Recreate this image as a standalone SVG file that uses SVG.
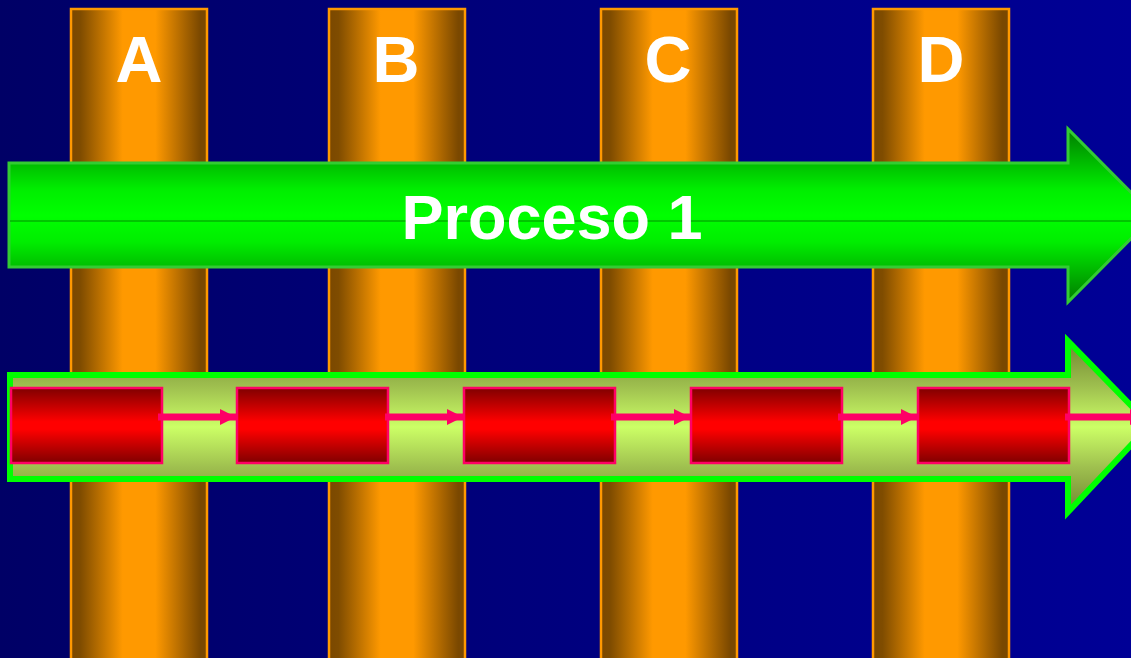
<svg xmlns="http://www.w3.org/2000/svg" width="1131" height="658" viewBox="0 0 1131 658">
  <defs>
    <linearGradient id="bg" x1="0" y1="0" x2="1" y2="0">
      <stop offset="0" stop-color="#000066"/>
      <stop offset="1" stop-color="#000096"/>
    </linearGradient>
    <linearGradient id="pillar" x1="0" y1="0" x2="1" y2="0">
      <stop offset="0" stop-color="#7a4800"/>
      <stop offset="0.07" stop-color="#7f4c00"/>
      <stop offset="0.38" stop-color="#ff9900"/>
      <stop offset="0.62" stop-color="#ff9900"/>
      <stop offset="0.95" stop-color="#7a4800"/>
      <stop offset="1" stop-color="#7a4800"/>
    </linearGradient>
    <linearGradient id="greenArrow" gradientUnits="userSpaceOnUse" x1="0" y1="128" x2="0" y2="303">
      <stop offset="0" stop-color="#007a00"/>
      <stop offset="0.35" stop-color="#00ee00"/>
      <stop offset="0.5" stop-color="#00ff00"/>
      <stop offset="0.65" stop-color="#00ee00"/>
      <stop offset="1" stop-color="#007a00"/>
    </linearGradient>
    <linearGradient id="limeArrow" gradientUnits="userSpaceOnUse" x1="0" y1="336" x2="0" y2="518">
      <stop offset="0" stop-color="#6a7f2e"/>
      <stop offset="0.28" stop-color="#9fc04f"/>
      <stop offset="0.5" stop-color="#ccff66"/>
      <stop offset="0.72" stop-color="#9fc04f"/>
      <stop offset="1" stop-color="#6a7f2e"/>
    </linearGradient>
    <linearGradient id="redBox" x1="0" y1="0" x2="0" y2="1">
      <stop offset="0" stop-color="#800000"/>
      <stop offset="0.45" stop-color="#ff0000"/>
      <stop offset="0.55" stop-color="#ff0000"/>
      <stop offset="1" stop-color="#800000"/>
    </linearGradient>
    <marker id="head" markerUnits="userSpaceOnUse" markerWidth="17" markerHeight="16" refX="16" refY="8" orient="auto">
      <path d="M0,0 L16,8 L0,16 Z" fill="#ff0066"/>
    </marker>
    <style>
      .pillar { fill: url(#pillar); stroke: #ff9900; stroke-width: 2.5; }
      .letter { font-family: "Liberation Sans", Arial, sans-serif; font-weight: bold; font-size: 65px; fill: #ffffff; text-anchor: middle; }
      .step { fill: url(#redBox); stroke: #ff0066; stroke-width: 2.5; }
      .flow { stroke: #ff0066; stroke-width: 7; fill: none; }
    </style>
  </defs>

  <rect x="0" y="0" width="1131" height="658" fill="url(#bg)"/>

  <!-- vertical columns -->
  <g id="col-A">
    <rect class="pillar" x="71" y="9" width="136" height="660"/>
    <text class="letter" x="139" y="82">A</text>
  </g>
  <g id="col-B">
    <rect class="pillar" x="329" y="9" width="136" height="660"/>
    <text class="letter" x="396" y="82">B</text>
  </g>
  <g id="col-C">
    <rect class="pillar" x="601" y="9" width="136" height="660"/>
    <text class="letter" x="668" y="82">C</text>
  </g>
  <g id="col-D">
    <rect class="pillar" x="873" y="9" width="136" height="660"/>
    <text class="letter" x="941" y="82">D</text>
  </g>

  <!-- process band -->
  <g id="process-1">
    <path d="M9,163 L1068,163 L1068,129 L1154,215.5 L1068,302 L1068,267 L9,267 Z" fill="url(#greenArrow)" stroke="#33cc33" stroke-width="3"/>
    <line x1="10" y1="221" x2="1131" y2="221" stroke="#008f00" stroke-width="1"/>
    <text x="552" y="239" font-family="Liberation Sans, Arial, sans-serif" font-weight="bold" font-size="63" fill="#ffffff" text-anchor="middle">Proceso 1</text>
  </g>

  <!-- step band -->
  <g id="step-band">
    <path d="M10,375 L1068,375 L1068,341 L1150,425 L1068,512 L1068,479 L10,479 Z" fill="url(#limeArrow)" stroke="#00ff00" stroke-width="6"/>
  </g>

  <g id="step-1"><rect class="step" x="11" y="388" width="151" height="75"/></g>
  <g id="step-2"><rect class="step" x="237" y="388" width="151" height="75"/></g>
  <g id="step-3"><rect class="step" x="464" y="388" width="151" height="75"/></g>
  <g id="step-4"><rect class="step" x="691" y="388" width="151" height="75"/></g>
  <g id="step-5"><rect class="step" x="918" y="388" width="151" height="75"/></g>

  <g id="connectors">
    <line class="flow" x1="158" y1="417" x2="236" y2="417" marker-end="url(#head)"/>
    <line class="flow" x1="385" y1="417" x2="463" y2="417" marker-end="url(#head)"/>
    <line class="flow" x1="611" y1="417" x2="690" y2="417" marker-end="url(#head)"/>
    <line class="flow" x1="838" y1="417" x2="917" y2="417" marker-end="url(#head)"/>
    <line class="flow" x1="1065" y1="417" x2="1146" y2="417" marker-end="url(#head)"/>
  </g>
</svg>
